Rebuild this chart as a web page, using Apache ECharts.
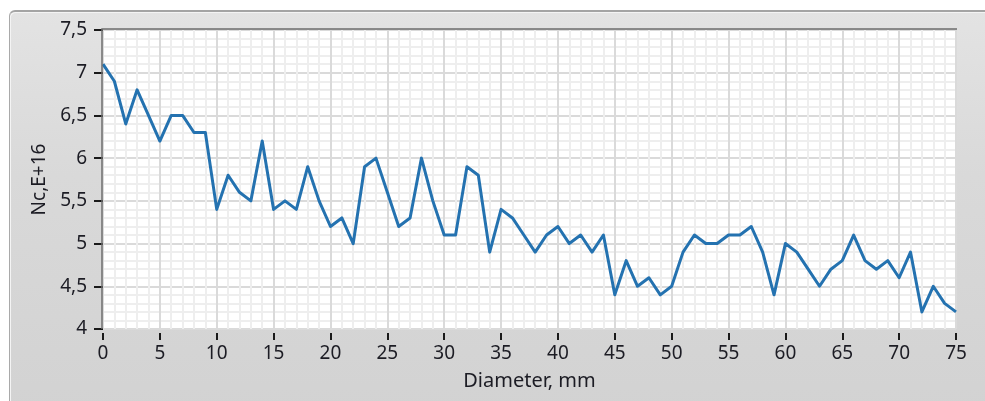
<!DOCTYPE html>
<html>
<head>
<meta charset="utf-8">
<script src="https://cdn.jsdelivr.net/npm/echarts@6/dist/echarts.min.js"></script>
<style>
  html, body { margin: 0; padding: 0; background: #ffffff; }
  #wrap { position: relative; width: 985px; height: 401px; overflow: hidden; }
  #panel {
    position: absolute; left: 9px; top: 10px; width: 990px; height: 410px;
    border: 1px solid #a9a9a9; border-top: 2px solid #a4a4a4;
    border-radius: 6px;
    box-shadow: inset 1px 1px 0 #f4f4f4;
    background: linear-gradient(#e3e3e3, #d9d9d9 40%, #d2d2d2 100%);
  }
  #chart { position: absolute; left: 0; top: 0; width: 985px; height: 401px; }
</style>
</head>
<body>
<div id="wrap">
  <div id="panel"></div>
  <div id="chart"></div>
</div>
<script>
// Diameter positions (mm)
const diameters = [
  0, 1, 2, 3, 4, 5, 6, 7, 8, 9,
  10, 11, 12, 13, 14, 15, 16, 17, 18, 19,
  20, 21, 22, 23, 24, 25, 26, 27, 28, 29,
  30, 31, 32, 33, 34, 35, 36, 37, 38, 39,
  40, 41, 42, 43, 44, 45, 46, 47, 48, 49,
  50, 51, 52, 53, 54, 55, 56, 57, 58, 59,
  60, 61, 62, 63, 64, 65, 66, 67, 68, 69,
  70, 71, 72, 73, 74, 75
];

// Concentration Nc, in units of 1E+16
const ncValues = [
  7.1, 6.9, 6.4, 6.8, 6.5, 6.2, 6.5, 6.5, 6.3, 6.3,
  5.4, 5.8, 5.6, 5.5, 6.2, 5.4, 5.5, 5.4, 5.9, 5.5,
  5.2, 5.3, 5.0, 5.9, 6.0, 5.6, 5.2, 5.3, 6.0, 5.5,
  5.1, 5.1, 5.9, 5.8, 4.9, 5.4, 5.3, 5.1, 4.9, 5.1,
  5.2, 5.0, 5.1, 4.9, 5.1, 4.4, 4.8, 4.5, 4.6, 4.4,
  4.5, 4.9, 5.1, 5.0, 5.0, 5.1, 5.1, 5.2, 4.9, 4.4,
  5.0, 4.9, 4.7, 4.5, 4.7, 4.8, 5.1, 4.8, 4.7, 4.8,
  4.6, 4.9, 4.2, 4.5, 4.3, 4.2
];

// Axis tick labels
const xTicks = [0, 5, 10, 15, 20, 25, 30, 35, 40, 45, 50, 55, 60, 65, 70, 75];
const yTicks = ['4', '4,5', '5', '5,5', '6', '6,5', '7', '7,5'];

const xName = 'Diameter, mm';
const yName = 'Nc,E+16';

const G = { left: 103, top: 30, right: 29, bottom: 72 };
const W = 985, H = 401;
const plotRight = W - G.right, plotBottom = H - G.bottom;

const font = '"Noto Sans", "Open Sans", sans-serif';
const textColor = '#1c1c24';

const chart = echarts.init(document.getElementById('chart'), null, { renderer: 'canvas' });

const points = diameters.map((d, i) => [d, ncValues[i]]);

chart.setOption({
  backgroundColor: 'transparent',
  animation: false,
  grid: {
    left: G.left, top: G.top, right: G.right, bottom: G.bottom,
    show: true, backgroundColor: '#ffffff', borderWidth: 0
  },
  xAxis: {
    type: 'value',
    min: 0, max: 75, interval: 5,
    offset: 4,
    name: xName,
    nameLocation: 'middle',
    nameGap: 38,
    nameTextStyle: { fontFamily: font, fontSize: 20, color: textColor },
    axisLine: { show: false },
    axisTick: { show: true, length: 7, lineStyle: { color: '#1a1a1a', width: 2 } },
    axisLabel: {
      margin: 11, fontFamily: font, fontSize: 19, color: textColor,
      formatter: v => String(xTicks[Math.round(v / 5)])
    },
    splitLine: { show: true, lineStyle: { color: '#dadada', width: 2 } },
    minorTick: { show: false, splitNumber: 5 },
    minorSplitLine: { show: true, lineStyle: { color: '#eeeeee', width: 2 } }
  },
  yAxis: {
    type: 'value',
    min: 4, max: 7.5, interval: 0.5,
    offset: 4,
    name: yName,
    nameLocation: 'middle',
    nameGap: 49,
    nameRotate: 90,
    nameTextStyle: { fontFamily: font, fontSize: 19, color: textColor },
    axisLine: { show: false },
    axisTick: { show: true, length: 9, lineStyle: { color: '#1a1a1a', width: 2 } },
    axisLabel: {
      margin: 12, fontFamily: font, fontSize: 19, color: textColor,
      formatter: v => yTicks[Math.round((v - 4) / 0.5)]
    },
    splitLine: { show: true, lineStyle: { color: '#dadada', width: 2 } },
    minorTick: { show: false, splitNumber: 5 },
    minorSplitLine: { show: true, lineStyle: { color: '#eeeeee', width: 2 } }
  },
  graphic: [
    // inset edge of the plot area (top and left)
    {
      type: 'polyline', z: 50, silent: true,
      shape: { points: [[G.left - 1, plotBottom], [G.left - 1, G.top - 1], [plotRight + 1, G.top - 1]] },
      style: { stroke: '#6e6e6e', lineWidth: 1.5, fill: null }
    }
  ],
  series: [{
    type: 'line',
    data: points,
    showSymbol: false,
    symbol: 'none',
    clip: true,
    lineStyle: { color: '#2472b0', width: 3, join: 'round' },
    itemStyle: { color: '#2472b0' },
    z: 10
  }]
});
</script>
</body>
</html>
